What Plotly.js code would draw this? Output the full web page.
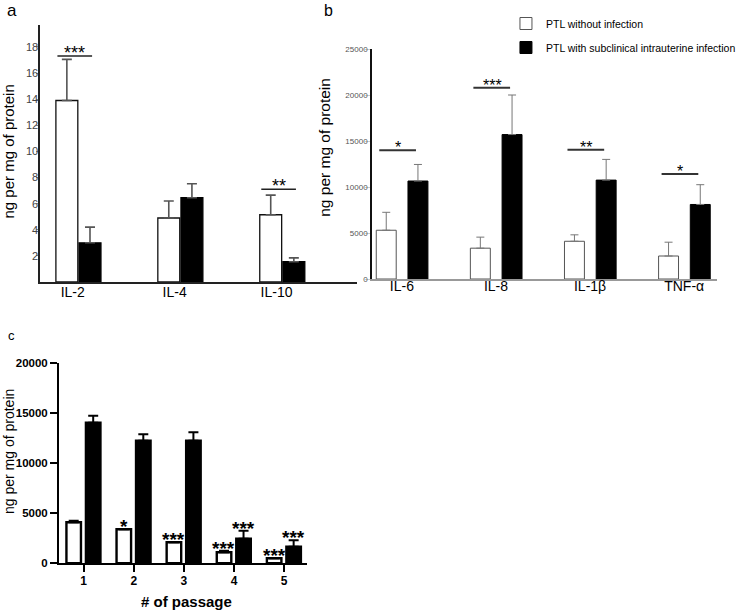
<!DOCTYPE html>
<html><head><meta charset="utf-8">
<script src="https://cdn.plot.ly/plotly-3.0.1.min.js"></script>
<style>html,body{margin:0;padding:0;background:#fff}#chart{width:741px;height:614px}</style>
</head><body><div id="chart"></div>
<script>
// ---- data ----
const seriesNames = ['PTL without infection', 'PTL with subclinical intrauterine infection'];

const catsA = ['IL-2', 'IL-4', 'IL-10'];
const noInfA = [13.9, 4.9, 5.15];
const noInfAErr = [3.15, 1.3, 1.5];
const infA = [3.0, 6.45, 1.55];
const infAErr = [1.2, 1.07, 0.3];
const sigACats = ['IL-2', 'IL-10'];
const sigALabels = ['***', '**'];
const sigAHeights = [17.3, 7.1];

const catsB = ['IL-6', 'IL-8', 'IL-1β', 'TNF-α'];
const noInfB = [5300, 3350, 4100, 2500];
const noInfBErr = [1950, 1200, 700, 1500];
const infB = [10650, 15700, 10750, 8100];
const infBErr = [1800, 4300, 2250, 2150];
const sigBLabels = ['*', '***', '**', '*'];
const sigBHeights = [14000, 20800, 14050, 11400];

const catsC = ['1', '2', '3', '4', '5'];
const noInfC = [4100, 3400, 2100, 1100, 500];
const noInfCErr = [150, 0, 0, 150, 0];
const infC = [14050, 12250, 12250, 2450, 1650];
const infCErr = [700, 650, 850, 800, 650];
const sigCNoInf = ['', '*', '***', '***', '***'];
const sigCInf = ['', '', '', '***', '***'];

const ticksA = [2, 4, 6, 8, 10, 12, 14, 16, 18];
const ticksB = [0, 5000, 10000, 15000, 20000, 25000];
const ticksC = [0, 5000, 10000, 15000, 20000];

// ---- build ----
const FONT = 'Arial, "Liberation Sans", sans-serif';
const W = 741, H = 614;
const px = v => v / W, py = v => 1 - v / H;
const zeros = n => new Array(n).fill(0);

function barPair(cats, a, aErr, b, bErr, xa, ya, st, showLeg) {
  return [
    {type: 'bar', x: cats, y: a, xaxis: xa, yaxis: ya, name: seriesNames[0], legendgroup: 'g0',
     showlegend: showLeg, offset: st.off0, width: st.w,
     marker: {color: '#ffffff', line: {color: st.lineCol, width: st.lw}},
     error_y: {type: 'data', symmetric: false, array: aErr, arrayminus: zeros(cats.length),
               color: st.errCol, thickness: st.et, width: st.ew}},
    {type: 'bar', x: cats, y: b, xaxis: xa, yaxis: ya, name: seriesNames[1], legendgroup: 'g1',
     showlegend: showLeg, offset: st.off1, width: st.w,
     marker: {color: '#000000', line: {color: '#000000', width: st.lw}},
     error_y: {type: 'data', symmetric: false, array: bErr, arrayminus: zeros(cats.length),
               color: st.errCol, thickness: st.et, width: st.ew}}
  ];
}

const traces = [
  ...barPair(catsA, noInfA, noInfAErr, infA, infAErr, 'x', 'y',
    {off0: -0.165, off1: 0.062, w: 0.215, lineCol: '#111', lw: 1.3, errCol: '#555', et: 1.6, ew: 5}, false),
  ...barPair(catsB, noInfB, noInfBErr, infB, infBErr, 'x2', 'y2',
    {off0: -0.272, off1: 0.065, w: 0.212, lineCol: '#555', lw: 1, errCol: '#777', et: 1, ew: 4}, true),
  ...barPair(catsC, noInfC, noInfCErr, infC, infCErr, 'x3', 'y3',
    {off0: -0.344, off1: 0.045, w: 0.29, lineCol: '#000', lw: 2.4, errCol: '#000', et: 2, ew: 5}, false)
];

const shapes = [];
const annotations = [];

// significance - panel a
sigACats.forEach((c, i) => {
  const k = catsA.indexOf(c);
  shapes.push({type: 'line', xref: 'x', yref: 'y', x0: k - 0.15, x1: k + 0.19,
    y0: sigAHeights[i], y1: sigAHeights[i], line: {color: '#222', width: 1.5}});
  annotations.push({xref: 'x', yref: 'y', x: k + 0.02, y: sigAHeights[i], text: sigALabels[i],
    showarrow: false, yanchor: 'bottom', yshift: -9, font: {family: FONT, size: 18, color: '#000'}});
});
// significance - panel b
catsB.forEach((c, k) => {
  shapes.push({type: 'line', xref: 'x2', yref: 'y2', x0: k - 0.24, x1: k + 0.15,
    y0: sigBHeights[k], y1: sigBHeights[k], line: {color: '#333', width: 2}});
  annotations.push({xref: 'x2', yref: 'y2', x: k - 0.04, y: sigBHeights[k], text: sigBLabels[k],
    showarrow: false, yanchor: 'bottom', yshift: -8, font: {family: FONT, size: 16, color: '#000'}});
});
// significance - panel c
catsC.forEach((c, k) => {
  if (sigCNoInf[k]) annotations.push({xref: 'x3', yref: 'y3', x: k - 0.2, y: noInfC[k] + noInfCErr[k],
    text: sigCNoInf[k], showarrow: false, yanchor: 'bottom', yshift: -10,
    font: {family: FONT, size: 19, color: '#000', weight: 'bold'}});
  if (sigCInf[k]) annotations.push({xref: 'x3', yref: 'y3', x: k + 0.19, y: infC[k] + infCErr[k],
    text: sigCInf[k], showarrow: false, yanchor: 'bottom', yshift: -10,
    font: {family: FONT, size: 19, color: '#000', weight: 'bold'}});
});

// panel letters and axis titles
const ann = (x, y, text, size, opts = {}) => Object.assign({xref: 'paper', yref: 'paper', x: px(x), y: py(y),
  text, showarrow: false, xanchor: 'center', yanchor: 'middle', font: {family: FONT, size, color: '#000'}}, opts);
annotations.push(ann(12, 10, 'a', 17));
annotations.push(ann(338, 10, 'b', 16));
annotations.push(ann(12, 335, 'c', 13));
annotations.push(ann(0, 152, 'ng per mg of protein', 15, {textangle: -90, xanchor: 'left', borderpad: 0, xshift: -2}));
annotations.push(ann(323, 147, 'ng per mg of protein', 15.5, {textangle: -90, xanchor: 'left', borderpad: 0}));
annotations.push(ann(0, 452, 'ng per mg of protein', 14, {textangle: -90, xanchor: 'left', borderpad: 0}));
annotations.push(ann(191.7, 601.5, '# of passage', 15, {font: {family: FONT, size: 15, color: '#000', weight: 'bold'}}));

const layout = {
  width: W, height: H, margin: {l: 0, r: 0, t: 0, b: 0},
  paper_bgcolor: '#fff', plot_bgcolor: 'rgba(0,0,0,0)',
  font: {family: FONT, color: '#000'},
  showlegend: true,
  legend: {x: px(520), y: py(9), xanchor: 'left', yanchor: 'top', font: {family: FONT, size: 10.5, color: '#000'},
           bgcolor: 'rgba(0,0,0,0)', tracegroupgap: 5, itemwidth: 30},
  xaxis: {domain: [px(41), px(367)], anchor: 'y', type: 'category', range: [-0.322, 2.79],
          showline: true, linecolor: '#222', linewidth: 1.5, showgrid: false, zeroline: false,
          ticks: '', ticklabelstandoff: -3, tickfont: {family: FONT, size: 14, color: '#000'}, fixedrange: true},
  yaxis: {domain: [1 - 282 / H, 1 - 25 / H], anchor: 'x', range: [0, 19.68], tickvals: ticksA,
          showline: true, linecolor: '#222', linewidth: 1.5, showgrid: false, zeroline: false,
          ticks: 'outside', ticklen: 2, tickwidth: 1, tickcolor: '#888', ticklabelstandoff: -4,
          tickfont: {family: FONT, size: 11, color: '#444'}, fixedrange: true},
  xaxis2: {domain: [px(382), px(737)], anchor: 'y2', type: 'category', range: [-0.3206, 3.35],
          showline: true, linecolor: '#999', linewidth: 1.5, showgrid: false, zeroline: false,
          ticks: '', ticklabelstandoff: -6, tickfont: {family: FONT, size: 14, color: '#000'}, fixedrange: true},
  yaxis2: {domain: [1 - 279 / H, 1 - 49 / H], anchor: 'x2', range: [0, 25000], tickvals: ticksB, tickformat: 'd',
          showline: true, linecolor: '#111', linewidth: 1.5, showgrid: false, zeroline: false,
          ticks: 'outside', ticklen: 5, tickwidth: 1, tickcolor: '#ccc', ticklabelstandoff: -4,
          tickfont: {family: FONT, size: 8, color: '#555'}, fixedrange: true},
  xaxis3: {domain: [px(60.7), px(316)], anchor: 'y3', type: 'category', range: [-0.491, 4.466],
          showline: true, linecolor: '#000', linewidth: 2, showgrid: false, zeroline: false,
          ticks: 'outside', ticklen: 7, tickwidth: 2, tickcolor: '#000', ticklabelstandoff: -2,
          tickfont: {family: FONT, size: 12, color: '#000', weight: 'bold'}, fixedrange: true},
  yaxis3: {domain: [1 - 563.3 / H, 1 - 363.3 / H], anchor: 'x3', range: [0, 20000], tickvals: ticksC, tickformat: 'd',
          showline: true, linecolor: '#000', linewidth: 2, showgrid: false, zeroline: false,
          ticks: 'outside', ticklen: 7, tickwidth: 2, tickcolor: '#000', ticklabelstandoff: 0,
          tickfont: {family: FONT, size: 11.5, color: '#000', weight: 'bold'}, fixedrange: true},
  shapes, annotations
};

Plotly.newPlot('chart', traces, layout, {displayModeBar: false, staticPlot: true});
</script></body></html>
